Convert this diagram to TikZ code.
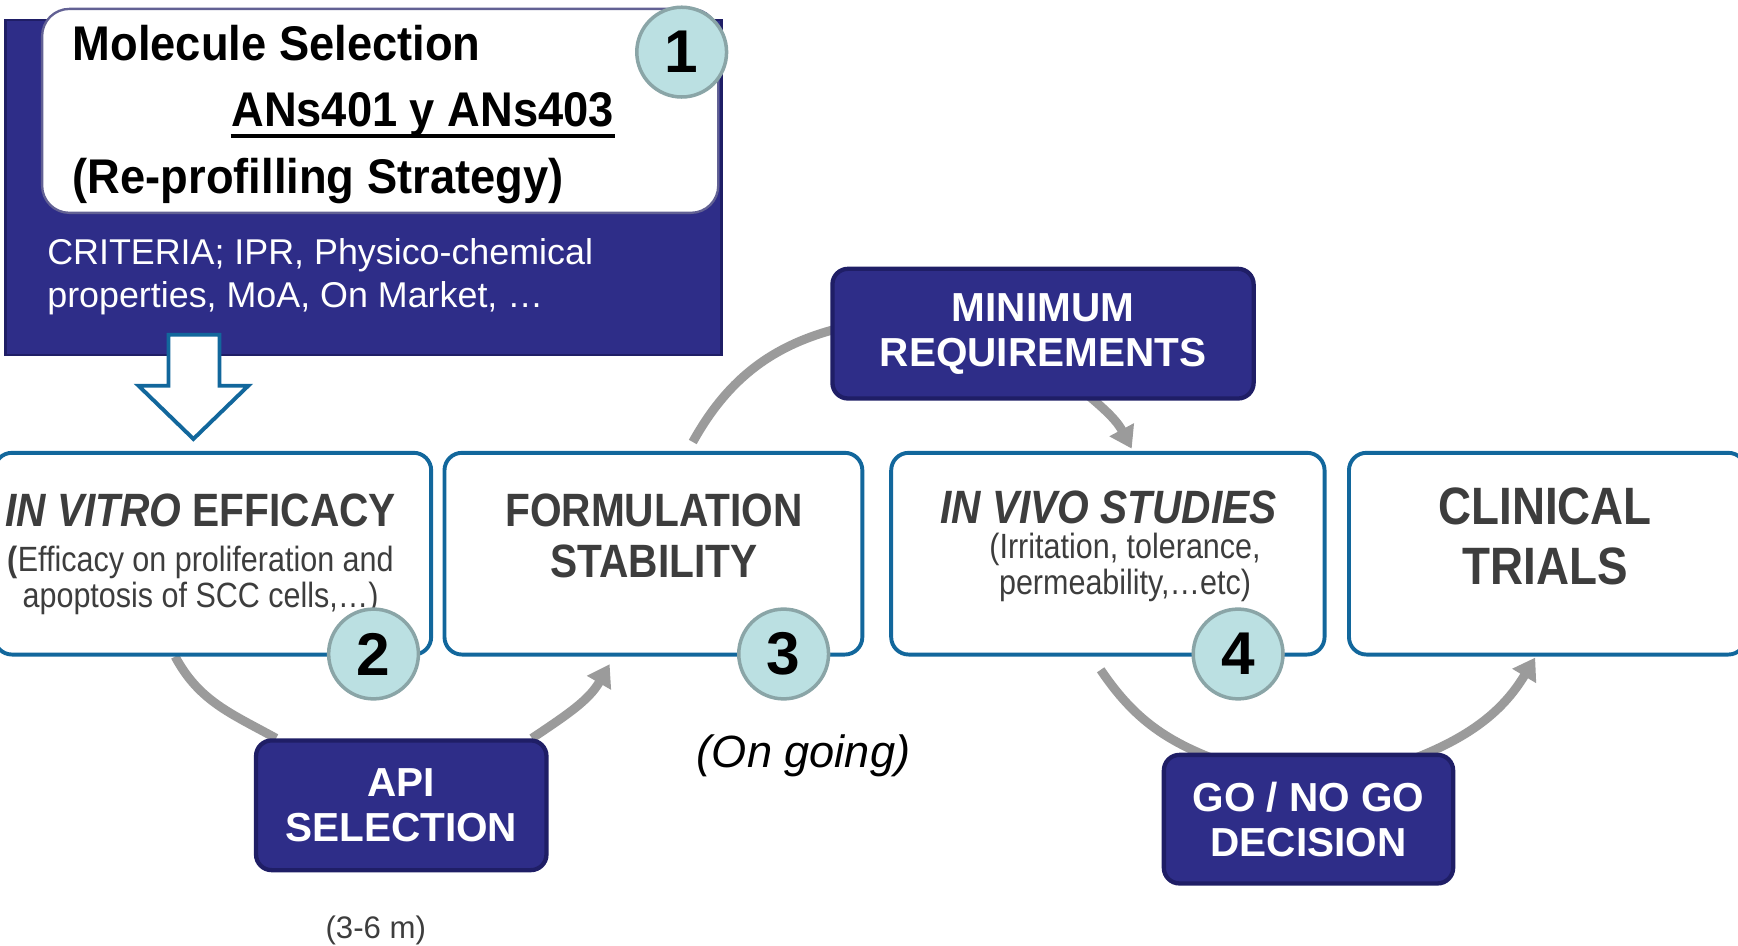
\documentclass[tikz,border=0pt]{standalone}
\usepackage{fontspec}
\setmainfont{Liberation Sans}
\newfontfamily\narrowfont[FakeStretch=0.87]{Liberation Sans}
\newfontfamily\headfont[FakeStretch=0.93]{Liberation Sans}
\usetikzlibrary{arrows.meta, positioning, backgrounds}
\definecolor{navyfill}{HTML}{2E2D88}
\definecolor{navyedge}{HTML}{1F1E66}
\definecolor{stageblue}{HTML}{12679C}
\definecolor{arcgray}{HTML}{9B9B9B}
\definecolor{badgefill}{HTML}{BBE0E2}
\definecolor{badgeedge}{HTML}{8AA5A7}
\definecolor{textgray}{HTML}{3D3D3D}

\begin{document}
\begin{tikzpicture}[
    >={Triangle[width=6.8pt, length=5.5pt]},
    stage/.style={rectangle, rounded corners=4.5pt, draw=stageblue, line width=1pt,
                  fill=white, minimum width=#1, minimum height=1.82cm},
    gate/.style={rectangle, rounded corners=4pt, draw=navyedge, line width=1.1pt,
                 fill=navyfill, text=white, align=center,
                 font=\fontsize{10.4}{11.6}\selectfont\bfseries,
                 minimum width=2.62cm, minimum height=1.17cm},
    badge/.style={circle, draw=badgeedge, line width=0.9pt, fill=badgefill,
                  minimum size=0.81cm, inner sep=0pt,
                  font=\fontsize{15.5}{15.5}\selectfont\bfseries},
    flow/.style={draw=arcgray, line width=2.3pt},
    title/.style={inner sep=0pt, text=textgray, align=center,
                  font=\narrowfont\fontsize{12}{13.1}\selectfont\bfseries},
    detail/.style={inner sep=0pt, text=textgray, align=center,
                   font=\narrowfont\fontsize{9}{9.3}\selectfont},
    headline/.style={inner sep=0pt, anchor=base west,
                     font=\headfont\fontsize{12.5}{12.5}\selectfont\bfseries},
  ]
  \useasboundingbox (0,0) rectangle (15.68,-8.53);

  % Molecule selection block
  \node[rectangle, draw=navyedge, line width=0.6pt, fill=navyfill,
        minimum width=6.46cm, minimum height=3.02cm] (molbox) at (3.28,-1.69) {};
  \node[rectangle, rounded corners=7pt, draw=navyedge!70, line width=0.6pt, fill=white,
        minimum width=6.10cm, minimum height=1.84cm] (molhead) at (3.43,-1.00) {};
  \node[headline] (molname) at (0.65,-0.55) {Molecule Selection};
  \node[headline] (ans) at (2.08,-1.145) {ANs401 y ANs403};
  \draw[line width=0.9pt] ([yshift=-0.08cm]ans.base west) -- ([yshift=-0.08cm]ans.base east);
  \node[headline] (strategy) at (0.65,-1.745) {(Re-profilling Strategy)};
  \node[anchor=north west, inner sep=0pt, text=white, align=left,
        font=\fontsize{9.2}{11.1}\selectfont] (criteria) at (0.42,-2.147)
        {CRITERIA; IPR, Physico-chemical\\properties, MoA, On Market, …};
  \node[badge] (b1) at (6.15,-0.47) {1};

  % hollow arrow down to the first stage
  \draw[stageblue, line width=1pt, fill=white]
    (1.52,-3.02) -- (1.98,-3.02) -- (1.98,-3.48) -- (2.24,-3.48) -- (1.745,-3.96)
    -- (1.25,-3.48) -- (1.52,-3.48) -- cycle;

  % Stages
  \node[stage=3.94cm] (vitro) at (1.92,-4.995) {};
  \node[stage=3.77cm] (formul) at (5.895,-4.995) {};
  \node[stage=3.91cm] (vivo) at (9.995,-4.995) {};
  \node[stage=3.58cm] (clinic) at (13.96,-4.995) {};

  \node[title, anchor=base] (vitrotitle) at (1.81,-4.75) {\textit{IN VITRO} EFFICACY};
  \node[detail, anchor=north] (vitronote) at (1.81,-4.92)
        {\textbf{(}Efficacy on proliferation and\\apoptosis of SCC cells,…)};
  \node[title, anchor=north] (formultitle) at (5.90,-4.45) {FORMULATION\\STABILITY};
  \node[title, anchor=base] (vivotitle) at (10.00,-4.72) {\textit{IN VIVO STUDIES}};
  \node[detail, anchor=north] (vivonote) at (10.15,-4.80)
        {(Irritation, tolerance,\\permeability,…etc)};
  \node[title, anchor=north, font=\narrowfont\fontsize{13.5}{15.4}\selectfont\bfseries]
        (clinictitle) at (13.94,-4.39) {CLINICAL\\TRIALS};

  % Decision gates
  \node[gate, minimum width=3.80cm] (minreq) at (9.41,-3.01) {MINIMUM\\REQUIREMENTS};
  \node[gate] (apisel) at (3.62,-7.265) {API\\SELECTION};
  \node[gate, minimum width=2.61cm, minimum height=1.16cm] (gonogo) at (11.805,-7.39)
        {GO / NO GO\\DECISION};

  \node[badge] (b2) at (3.37,-5.90) {2};
  \node[badge] (b3) at (7.07,-5.90) {3};
  \node[badge] (b4) at (11.17,-5.90) {4};

  \node[anchor=base, font=\fontsize{11.6}{11.6}\selectfont\itshape] (ongoing) at (7.25,-6.92) {(On going)};
  \node[anchor=base, text=textgray, font=\fontsize{8}{8}\selectfont] (months) at (3.39,-8.47) {(3-6 m)};

  % curved flows
  \begin{scope}[on background layer]
    \draw[flow] ([xshift=-0.34cm]vitro.south) to[out=-62, in=151] ([xshift=0.2cm]apisel.north west);
    \draw[flow, ->] ([xshift=-0.15cm]apisel.north east) to[out=34, in=240] ([xshift=-0.395cm, yshift=-0.07cm]formul.south);
    \draw[flow] ([xshift=0.355cm, yshift=0.08cm]formul.north) to[out=61, in=190] ([xshift=0.32cm, yshift=0.1cm]minreq.west);
    \draw[flow, ->] ([xshift=0.25cm, yshift=0.18cm]minreq.south) to[out=-40, in=118] ([xshift=0.215cm, yshift=0.02cm]vivo.north);
    \draw[flow] ([xshift=-0.065cm, yshift=-0.12cm]vivo.south) to[out=-56, in=160] ([xshift=0.56cm, yshift=-0.09cm]gonogo.north west);
    \draw[flow, ->] ([xshift=-0.47cm, yshift=-0.09cm]gonogo.north east) to[out=20, in=239] ([xshift=-0.11cm, yshift=-0.01cm]clinic.south);
  \end{scope}
\end{tikzpicture}
\end{document}
